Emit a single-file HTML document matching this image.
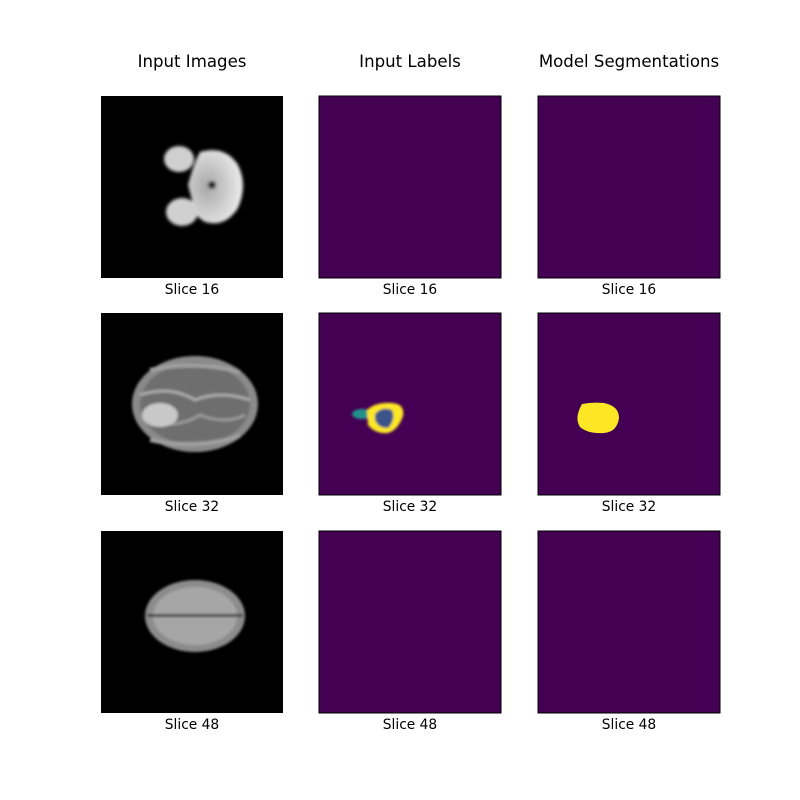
<!DOCTYPE html>
<html><head><meta charset="utf-8"><style>
body{margin:0;background:#fff;}
svg{display:block;font-family:"DejaVu Sans","Liberation Sans",sans-serif;}
</style></head><body>
<svg width="800" height="800" viewBox="0 0 800 800">
<defs>
<filter id="b2" x="-20%" y="-20%" width="140%" height="140%"><feGaussianBlur stdDeviation="1.6"/></filter>
<filter id="b1"><feGaussianBlur stdDeviation="1.2"/></filter>
<radialGradient id="lobe" cx="0.35" cy="0.5" r="0.65"><stop offset="0" stop-color="#a8a8a8"/><stop offset="1" stop-color="#ececec"/></radialGradient>
</defs>
<rect width="800" height="800" fill="#fff"/>
<g font-size="16.6" text-anchor="middle" fill="#000">
<text x="192" y="67">Input Images</text>
<text x="410" y="67">Input Labels</text>
<text x="629" y="67">Model Segmentations</text>
</g>
<g>
<rect x="101" y="96" width="182" height="182" fill="#000"/>
<g filter="url(#b2)">
<path d="M200 152 Q225 145 238 165 Q248 185 238 208 Q225 228 205 222 Q192 215 192 200 L188 185 Q192 170 196 160 Z" fill="url(#lobe)"/>
<ellipse cx="179" cy="159" rx="15" ry="13" fill="#d0d0d0"/>
<ellipse cx="182" cy="212" rx="16" ry="14" fill="#d0d0d0"/>
<circle cx="212" cy="185" r="4" fill="#222"/>
</g>
</g>
<rect x="319" y="96" width="182" height="182" fill="#440154" stroke="#000"/>
<rect x="538" y="96" width="182" height="182" fill="#440154" stroke="#000"/>
<g>
<rect x="101" y="313" width="182" height="182" fill="#000"/>
<g filter="url(#b1)">
<ellipse cx="195" cy="404" rx="63" ry="48" fill="#8a8a8a"/>
<ellipse cx="195" cy="404" rx="55" ry="41" fill="#6e6e6e"/>
<path d="M140 395 Q170 385 195 400 Q220 390 250 400" stroke="#aaa" stroke-width="3" fill="none"/>
<path d="M150 420 Q175 430 200 415 Q225 425 245 415" stroke="#999" stroke-width="3" fill="none"/>
<ellipse cx="160" cy="415" rx="18" ry="12" fill="#c8c8c8"/>
<path d="M150 370 Q195 360 240 372" stroke="#a0a0a0" stroke-width="4" fill="none"/>
<path d="M150 440 Q195 450 240 436" stroke="#a0a0a0" stroke-width="4" fill="none"/>
</g>
</g>
<g>
<rect x="319" y="313" width="182" height="182" fill="#440154" stroke="#000"/>
<g filter="url(#b1)">
<ellipse cx="362" cy="414" rx="10" ry="5" fill="#21918c"/>
<path d="M367 410 Q375 402 392 403 Q405 404 403 416 Q398 430 388 433 Q375 434 368 425 Z" fill="#fde725"/>
<path d="M375 414 Q382 406 392 410 Q396 420 388 428 Q378 428 375 420 Z" fill="#3b528b"/>
</g>
</g>
<g>
<rect x="538" y="313" width="182" height="182" fill="#440154" stroke="#000"/>
<path d="M582 404 Q592 402 604 403 Q619 406 619 418 Q617 432 604 433 Q588 434 580 427 Q574 418 582 404 Z" fill="#fde725"/>
</g>
<g>
<rect x="101" y="531" width="182" height="182" fill="#000"/>
<g filter="url(#b1)">
<ellipse cx="195" cy="616" rx="50" ry="36" fill="#8c8c8c"/>
<ellipse cx="195" cy="616" rx="42" ry="29" fill="#a6a6a6"/>
<rect x="147" y="614" width="96" height="3" fill="#444"/>
</g>
</g>
<rect x="319" y="531" width="182" height="182" fill="#440154" stroke="#000"/>
<rect x="538" y="531" width="182" height="182" fill="#440154" stroke="#000"/>
<g font-size="13.8" text-anchor="middle" fill="#000">
<text x="192" y="294">Slice 16</text>
<text x="410" y="294">Slice 16</text>
<text x="629" y="294">Slice 16</text>
<text x="192" y="511">Slice 32</text>
<text x="410" y="511">Slice 32</text>
<text x="629" y="511">Slice 32</text>
<text x="192" y="729">Slice 48</text>
<text x="410" y="729">Slice 48</text>
<text x="629" y="729">Slice 48</text>
</g>
</svg>
</body></html>
